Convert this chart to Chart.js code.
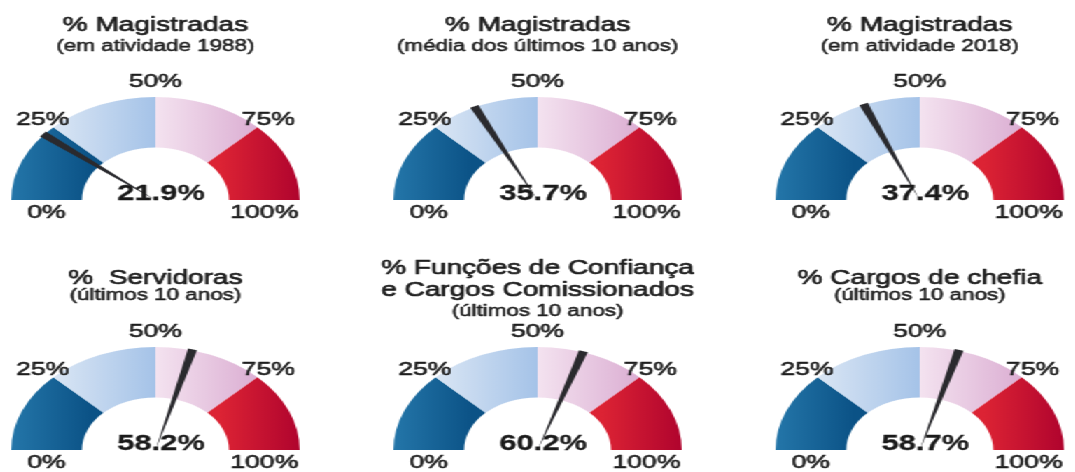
<!DOCTYPE html>
<html>
<head>
<meta charset="utf-8">
<script src="https://cdn.jsdelivr.net/npm/chart.js@4.4.0/dist/chart.umd.min.js"></script>
<style>
  html, body { margin: 0; padding: 0; background: #fff; overflow: hidden; }
  /* the original graphic is stretched sideways, so the whole board is too */
  #wrap { position: absolute; left: 0; top: 0; width: 768px; height: 472px; transform: scaleX(1.4); transform-origin: 0 0; }
  #wrap canvas { position: absolute; }
</style>
</head>
<body>
<div id="wrap"></div>
<script>
var titles = [
    ['% Magistradas', '(em atividade 1988)'],
    ['% Magistradas', '(média dos últimos 10 anos)'],
    ['% Magistradas', '(em atividade 2018)'],
    ['%  Servidoras', '(últimos 10 anos)'],
    ['% Funções de Confiança', 'e Cargos Comissionados', '(últimos 10 anos)'],
    ['% Cargos de chefia', '(últimos 10 anos)']
];
var values = [21.9, 35.7, 37.4, 58.2, 60.2, 58.7];
var bands = [25, 25, 25, 25];
var tickLabels = ['0%', '25%', '50%', '75%', '100%'];
var bandColors = [
    ['#2476a9', '#0b5286'],
    ['#dde8f5', '#a5c3e8'],
    ['#f4e3f0', '#daabd1'],
    ['#dc2334', '#b0042e']
];

var FONT = '"Liberation Sans", Arial, sans-serif';
var gradRange = [[-1, -0.45], [-0.75, 0], [0, 0.75], [0.45, 1]];

function bandFill(c) {
    var chart = c.chart, area = chart.chartArea, i = c.dataIndex;
    if (!area) return bandColors[i][1];
    var cx = (area.left + area.right) / 2, R = (area.right - area.left) / 2;
    var g = chart.ctx.createLinearGradient(cx + gradRange[i][0] * R, 0, cx + gradRange[i][1] * R, 0);
    g.addColorStop(0, bandColors[i][0]);
    g.addColorStop(1, bandColors[i][1]);
    return g;
}

// the print type is a bit heavier than the regular face
function heavyText(ctx, t, x, y, w) {
    ctx.lineWidth = w;
    ctx.strokeText(t, x, y);
    ctx.fillText(t, x, y);
}

var gaugePlugin = {
    id: 'gauge',
    afterDatasetsDraw: function(chart, args, opts) {
        var ctx = chart.ctx;
        var arc = chart.getDatasetMeta(0).data[0];
        var cx = arc.x, cy = arc.y, R = arc.outerRadius, r = arc.innerRadius;
        ctx.save();
        ctx.lineJoin = 'round';

        // title lines
        var lines = opts.title;
        var y = opts.row === 0 ? 25 : (lines.length > 2 ? 32 : 42);
        var step = opts.row === 0 || lines.length > 2 ? 22 : 18;
        ctx.fillStyle = ctx.strokeStyle = '#1e1e1e';
        ctx.textAlign = 'center';
        ctx.textBaseline = 'middle';
        lines.forEach(function(t) {
            var small = t.charAt(0) === '(';
            ctx.font = (small ? '16px ' : '20px ') + FONT;
            heavyText(ctx, t, cx, y, small ? 0.5 : 0.7);
            y += step;
        });

        // scale labels around the arc
        ctx.font = '19px ' + FONT;
        var mid = (R + r) / 2;
        var d = (R + 11) * Math.SQRT1_2;
        heavyText(ctx, tickLabels[0], cx - mid, cy + 13, 0.6);
        heavyText(ctx, tickLabels[4], cx + mid, cy + 13, 0.6);
        heavyText(ctx, tickLabels[1], cx - d, cy - d, 0.6);
        heavyText(ctx, tickLabels[3], cx + d, cy - d, 0.6);
        heavyText(ctx, tickLabels[2], cx, cy - R - 15, 0.6);

        // needle
        var a = Math.PI + Math.PI * opts.value / 100;
        var ux = Math.cos(a), uy = Math.sin(a);
        var tx = cx + (R + 1) * ux, ty = cy + (R + 1) * uy;
        ctx.fillStyle = '#2a2a2e';
        ctx.beginPath();
        ctx.moveTo(tx - uy * 3.3, ty + ux * 3.3);
        ctx.lineTo(tx + uy * 3.3, ty - ux * 3.3);
        ctx.lineTo(cx, cy);
        ctx.closePath();
        ctx.fill();

        // value
        ctx.fillStyle = ctx.strokeStyle = '#1a1a1a';
        ctx.font = 'bold 22px ' + FONT;
        ctx.textBaseline = 'alphabetic';
        heavyText(ctx, opts.value.toFixed(1) + '%', cx + 4, cy, 0.3);
        ctx.restore();
    }
};

var centers = [111, 384, 657];
var wrap = document.getElementById('wrap');

values.forEach(function(v, i) {
    var row = Math.floor(i / 3);
    var canvas = document.createElement('canvas');
    canvas.width = 260;
    canvas.height = 236;
    canvas.style.left = (centers[i % 3] - 130) + 'px';
    canvas.style.top = (row * 236) + 'px';
    wrap.appendChild(canvas);

    new Chart(canvas.getContext('2d'), {
        type: 'doughnut',
        data: {
            labels: tickLabels.slice(0, 4),
            datasets: [{
                data: bands,
                backgroundColor: bandFill,
                borderWidth: 0,
                hoverOffset: 0
            }]
        },
        options: {
            responsive: false,
            animation: false,
            rotation: -90,
            circumference: 180,
            cutout: '51%',
            layout: {
                padding: row === 0
                    ? { left: 27, right: 27, top: 97, bottom: 36 }
                    : { left: 27, right: 27, top: 111, bottom: 22 }
            },
            plugins: {
                legend: { display: false },
                tooltip: { enabled: false },
                gauge: { value: v, title: titles[i], row: row }
            }
        },
        plugins: [gaugePlugin]
    });
});
</script>
</body>
</html>
